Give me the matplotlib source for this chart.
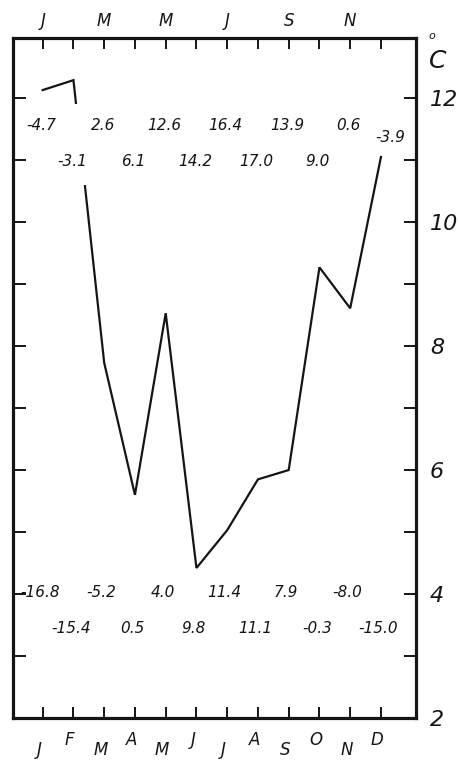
import matplotlib
matplotlib.use("Agg")
import matplotlib.pyplot as plt
from matplotlib.patches import Rectangle
import numpy as np

# ---- data ----
months = ["J", "F", "M", "A", "M", "J", "J", "A", "S", "O", "N", "D"]
curve_values = [12.13, 12.29, 7.73, 5.60, 8.53, 4.42, 5.03, 5.85, 6.00, 9.27, 8.61, 11.05]
mean_temps = ["-4.7", "-3.1", "2.6", "6.1", "12.6", "14.2", "16.4", "17.0", "13.9", "9.0", "0.6", "-3.9"]
min_temps = ["-16.8", "-15.4", "-5.2", "0.5", "4.0", "9.8", "11.4", "11.1", "7.9", "-0.3", "-8.0", "-15.0"]
y_major = [2, 4, 6, 8, 10, 12]
y_minor = [3, 5, 7, 9, 11]

W, H = 459, 760
fig = plt.figure(figsize=(W / 100, H / 100), dpi=100)
fig.patch.set_facecolor("white")

# axes frame in pixels: left 13, right 416, top 38, bottom 718
ax = fig.add_axes([13.3 / W, 1 - 718 / H, (416 - 13.3) / W, (718 - 38) / H])
x = np.arange(len(months))
ax.set_xlim(-0.956, 12.14)
ax.set_ylim(2, 12.97)

ink = "#151515"
ax.plot(x, curve_values, color=ink, lw=1.6, solid_joinstyle="miter", zorder=2)

# gap in the curve where the number rows are written
ax.add_patch(Rectangle((0.9, 10.6), 0.8, 1.3, facecolor="white", edgecolor="none", zorder=3))

for s in ax.spines.values():
    s.set_linewidth(2.3)
    s.set_color(ink)

ax.set_xticks(x)
ax.set_xticklabels([])
ax.tick_params(axis="x", direction="in", top=True, bottom=True, length=8, width=1.4, color=ink)
ax.set_yticks(y_major)
ax.set_yticks(y_minor, minor=True)
ax.set_yticklabels([str(v) for v in y_major])
ax.tick_params(axis="y", which="both", direction="in", left=True, right=True,
               labelleft=False, labelright=True, length=9, width=1.4, color=ink)
ax.tick_params(axis="y", which="major", pad=10, labelsize=16)
for lab in ax.get_yticklabels():
    lab.set_fontstyle("italic")
    lab.set_color(ink)

fs = 11
txt_kw = dict(ha="center", va="center", fontsize=fs, style="italic", color=ink, zorder=4)

# mean temperature rows (top)
row_top = [11.56, 10.97]
for i, t in enumerate(mean_temps):
    if i == 11:
        ax.text(i + 0.3, 11.37, t, **txt_kw)
    else:
        ax.text(i - 0.05, row_top[i % 2], t, **txt_kw)

# minimum temperature rows (bottom)
row_bot = [4.03, 3.45]
for i, t in enumerate(min_temps):
    ax.text(i - 0.08, row_bot[i % 2], t, **txt_kw)

# month letters
mk = dict(ha="center", va="center", fontsize=12, style="italic", color=ink, clip_on=False)
for i, m in enumerate(months):
    ax.text(i - 0.12, 1.48 if i % 2 == 0 else 1.645, m, **mk)
    if i % 2 == 0:
        ax.text(i, 13.24, m, **mk)

# unit label
fig.text(432 / W, 1 - 36 / H, "o", ha="center", va="center", fontsize=8, style="italic", color=ink)
fig.text(438 / W, 1 - 61 / H, "C", ha="center", va="center", fontsize=18, style="italic", color=ink)

fig.savefig("out.png", dpi=100, facecolor="white")
